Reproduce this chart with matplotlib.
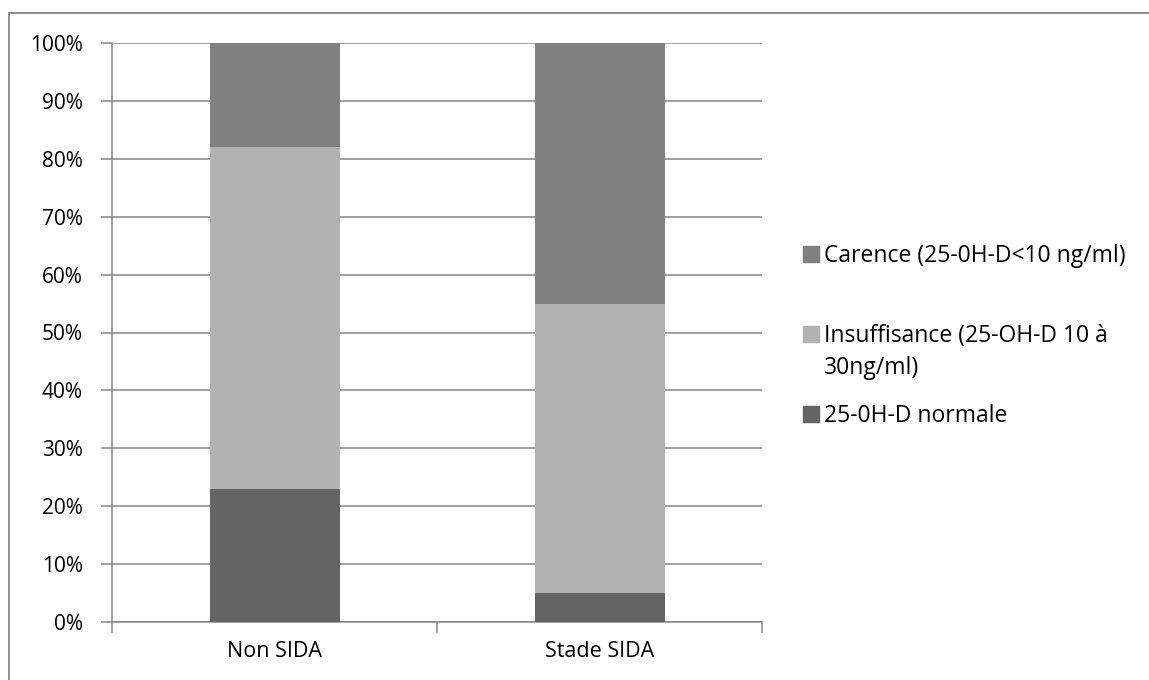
import matplotlib.pyplot as plt
from matplotlib.patches import Rectangle
from matplotlib.lines import Line2D

plt.rcParams['font.family'] = ['Open Sans', 'DejaVu Sans']

# data
groups = ["Non SIDA", "Stade SIDA"]
normale = [23, 5]
insuffisance = [59, 50]
carence = [18, 45]
labels = ["Carence (25-0H-D<10 ng/ml)",
          "Insuffisance (25-OH-D 10 à\n30ng/ml)",
          "25-0H-D normale"]
colors = ["#808080", "#b2b2b2", "#646464"]

W, H = 1149, 680
fig = plt.figure(figsize=(W / 100, H / 100), dpi=100)
ax = fig.add_axes([112 / W, 58 / H, 650 / W, 579 / H])

x = list(range(len(groups)))
bottom2 = normale
bottom3 = [a + b for a, b in zip(normale, insuffisance)]
ax.bar(x, normale, width=0.4, color=colors[2], zorder=3)
ax.bar(x, insuffisance, width=0.4, bottom=bottom2, color=colors[1], zorder=3)
ax.bar(x, carence, width=0.4, bottom=bottom3, color=colors[0], zorder=3)

ax.set_xlim(-0.5, 1.5)
ax.set_ylim(0, 100)
ax.set_yticks(range(0, 101, 10))
ax.set_yticklabels([f"{v}%" for v in range(0, 101, 10)], fontsize=15)
ax.yaxis.grid(True, color="#868686", linewidth=1.1, zorder=0)

# category boundaries get the tick marks, labels sit in between
ax.set_xticks([-0.5, 0.5, 1.5])
ax.set_xticklabels([])
ax.set_xticks(x, minor=True)
ax.set_xticklabels(groups, minor=True, fontsize=15.5)
ax.tick_params(axis="x", which="minor", length=0, pad=14)
ax.tick_params(axis="x", which="major", length=8, color="#868686", width=1.1)
ax.tick_params(axis="y", length=8, color="#868686", width=1.1, pad=13)

for s in ["top", "right"]:
    ax.spines[s].set_visible(False)
for s in ["left", "bottom"]:
    ax.spines[s].set_color("#868686")
    ax.spines[s].set_linewidth(1.1)

# legend drawn by hand, Excel style spacing
leg_y = [254, 334, 414]
for c, lab, y in zip(colors, labels, leg_y):
    fig.patches.append(Rectangle((803 / W, 1 - (y + 8) / H), 16 / W, 16 / H,
                                 transform=fig.transFigure, color=c))
    for i, line in enumerate(lab.split("\n")):
        fig.text(824 / W, 1 - (y + 2 + i * 32) / H, line, fontsize=16.5,
                 va="center", ha="left")

# outer chart frame (only top and left visible)
fig.add_artist(Line2D([9 / W, 1], [1 - 13 / H, 1 - 13 / H], color="#868686",
                      linewidth=1.3, transform=fig.transFigure))
fig.add_artist(Line2D([9 / W, 9 / W], [0, 1 - 13 / H], color="#868686",
                      linewidth=1.3, transform=fig.transFigure))

fig.savefig("out.png", dpi=100)
